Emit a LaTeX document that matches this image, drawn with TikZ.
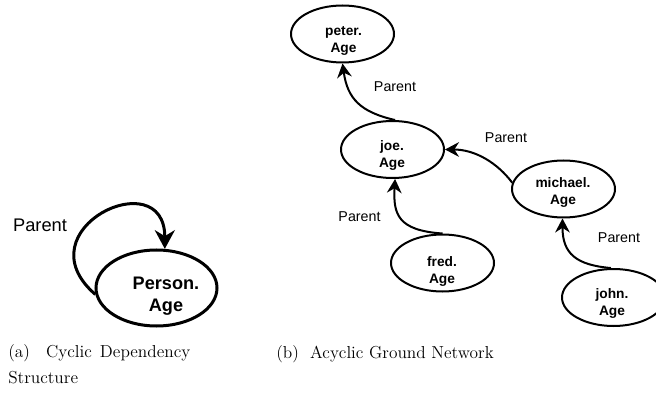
\documentclass[tikz,border=0pt]{standalone}
\usepackage{fontspec}
\setsansfont{Liberation Sans}
\usetikzlibrary{shapes.geometric,arrows.meta}
\begin{document}
\begin{tikzpicture}[x=0.75pt,y=0.75pt,
  var/.style={ellipse, draw, line width=1.5pt, minimum width=77.25pt,
    minimum height=42.75pt, inner sep=0pt},
  bigvar/.style={var, line width=2.25pt, minimum width=90.75pt, minimum height=57pt},
  vtext/.style={font=\sffamily\bfseries\fontsize{10.3}{12.75}\selectfont,
    align=center, inner sep=0pt},
  bigtext/.style={font=\sffamily\bfseries\fontsize{13.6}{16.5}\selectfont,
    align=center, inner sep=0pt},
  rel/.style={font=\sffamily\fontsize{10.7}{13}\selectfont, anchor=base, inner sep=0pt},
  bigrel/.style={rel, font=\sffamily\fontsize{13.7}{16}\selectfont},
  dep/.style={line width=1.5pt, -{Stealth[length=10.5pt, width=11pt, inset=3.5pt]}},
  bigdep/.style={line width=2.25pt, -{Stealth[length=14pt, width=15pt, inset=4.5pt]}},
  caption/.style={font=\fontsize{13}{20}\selectfont, inner sep=0pt}
]
\useasboundingbox (0,0) rectangle (656,400);

% (a) template-level dependency: Person.Age depends on its parent's Age
\node[bigvar] (person) at (156.5,112) {};
\node[bigtext] (personL) at (166,104) {Person.\\Age};
\node[bigrel] (loopL) at (40,168) {Parent};
\draw[bigdep] (person.186) .. controls +(-75,65) and +(0,88) .. (person.78);

% (b) ground network over individual people
\node[var] (peter) at (342.5,366) {};
\node[vtext] (peterL) at (343.5,359) {peter.\\Age};
\node[var] (joe) at (392.5,250.5) {};
\node[vtext] (joeL) at (392,245) {joe.\\Age};
\node[var] (michael) at (563.5,211) {};
\node[vtext] (michaelL) at (563,208) {michael.\\Age};
\node[var] (john) at (613.5,102.5) {};
\node[vtext] (johnL) at (612,96.5) {john.\\Age};
\node[var] (fred) at (442.5,137) {};
\node[vtext] (fredL) at (442,128.5) {fred.\\Age};

\draw[dep] (joe.85) .. controls +(-35,8) and +(5,-35) .. (peter.south);
\draw[dep] (michael.173) .. controls +(-15,20) and +(30,0) .. (joe.east);
\draw[dep] (fred.north) .. controls +(-45,3) and +(-2,-35) .. (joe.-85);
\draw[dep] (john.95) .. controls +(-35,3) and +(0,-35) .. (michael.-92);

\node[rel] (l1) at (395,308) {Parent};
\node[rel] (l2) at (506,257) {Parent};
\node[rel] (l3) at (359.5,178) {Parent};
\node[rel] (l4) at (619,157) {Parent};

% sub-figure captions
\node[caption, anchor=north west, text width=136.5pt, align=justify] (capa) at (8,56)
  {(a)\ \ Cyclic Dependency\linebreak Structure};
\node[caption, anchor=base west] (capb) at (276,42) {(b)\ \ Acyclic Ground Network};
\end{tikzpicture}
\end{document}
